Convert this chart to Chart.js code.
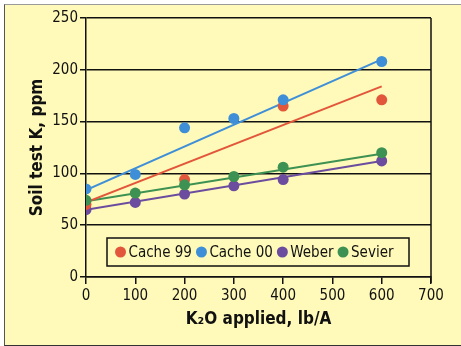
<!DOCTYPE html>
<html>
<head>
<meta charset="utf-8">
<script src="https://cdn.jsdelivr.net/npm/chart.js@4/dist/chart.umd.min.js"></script>
<style>
  html, body { margin: 0; padding: 0; background: #fff; }
  #wrap { position: relative; width: 461px; height: 346px; overflow: hidden; }
  #frame {
    position: absolute; left: 4px; top: 4px; width: 480px; height: 340px;
    background: #fffab9;
    border-top: 1px solid #9a9a9a; border-left: 1px solid #555; border-bottom: 1px solid #333;
  }
  canvas { position: absolute; left: 0; top: 0; }
</style>
</head>
<body>
<div id="wrap">
  <div id="frame"></div>
  <canvas id="chart" width="461" height="346"></canvas>
</div>
<script>
//-----------Data-----------
const cache99X = [0, 200, 400, 600];
const cache99Y = [70, 94, 165, 171];
const cache00X = [0, 100, 200, 300, 400, 600];
const cache00Y = [85, 99, 144, 153, 171, 208];
const weberX = [0, 100, 200, 300, 400, 600];
const weberY = [65, 72, 80, 88, 94, 112];
const sevierX = [0, 100, 200, 300, 400, 600];
const sevierY = [74, 81, 89, 97, 106, 120];

// fitted trend lines, endpoints at 0 and 600 lb/A
const trendX = [0, 600];
const cache99Trend = [72, 184];
const cache00Trend = [84, 210];
const weberTrend = [65, 112];
const sevierTrend = [73, 119];

const xTicks = [0, 100, 200, 300, 400, 500, 600, 700];
const yTicks = [0, 50, 100, 150, 200, 250];

const RED = '#e2573b', BLUE = '#3f8fd8', PURPLE = '#6b4c9f', GREEN = '#3d9152';
const FONT = "'Liberation Sans Narrow', 'DejaVu Sans Condensed', sans-serif";

const pts = (xs, ys) => xs.map((x, i) => ({ x: x, y: ys[i] }));

function pointSet(label, xs, ys, color, order) {
  return {
    label: label, data: pts(xs, ys), showLine: false, order: order,
    pointRadius: 5.5, pointHoverRadius: 5.5,
    pointBackgroundColor: color, pointBorderWidth: 0, borderColor: color
  };
}
function trendSet(ys, color) {
  return {
    label: '', data: pts(trendX, ys), showLine: true, order: 10,
    borderColor: color, borderWidth: 2, pointRadius: 0, fill: false
  };
}

// legend drawn inside the plot, box spans roughly 107..409 px
const boxLegend = {
  id: 'boxLegend',
  afterDraw(chart) {
    const ctx = chart.ctx, area = chart.chartArea;
    const items = chart.data.datasets.filter(d => d.label);
    ctx.save();
    ctx.font = '15px ' + FONT;
    const r = 5.5, gapIn = 8;
    const boxL = 107, boxR = 409, boxT = 238, boxH = 28, cy = boxT + boxH / 2;
    const padL = 8, padR = 10;
    let textW = 0;
    items.forEach(d => { textW += ctx.measureText(d.label).width; });
    const free = (boxR - boxL) - padL - padR - items.length * (r * 2 + gapIn) - textW;
    const gapOut = free / (items.length - 1);
    ctx.fillStyle = '#fffab9';
    ctx.fillRect(boxL, boxT, boxR - boxL, boxH);
    ctx.strokeStyle = '#111';
    ctx.lineWidth = 1.5;
    ctx.strokeRect(boxL, boxT, boxR - boxL, boxH);
    let x = boxL + padL + r;
    ctx.textBaseline = 'middle';
    items.forEach(d => {
      ctx.fillStyle = d.pointBackgroundColor;
      ctx.beginPath();
      ctx.arc(x, cy, r, 0, Math.PI * 2);
      ctx.fill();
      ctx.fillStyle = '#111';
      ctx.fillText(d.label, x + gapIn, cy + 1);
      x += gapIn + ctx.measureText(d.label).width + gapOut + r * 2;
    });
    ctx.restore();
  }
};

// right-hand frame of the plot
const rightEdge = {
  id: 'rightEdge',
  beforeDatasetsDraw(chart) {
    const ctx = chart.ctx, a = chart.chartArea;
    ctx.save();
    ctx.strokeStyle = '#111';
    ctx.lineWidth = 1.5;
    ctx.beginPath();
    ctx.moveTo(a.right, a.top);
    ctx.lineTo(a.right, a.bottom + 6);
    ctx.stroke();
    ctx.restore();
  }
};

new Chart(document.getElementById('chart'), {
  type: 'scatter',
  data: {
    datasets: [
      trendSet(cache99Trend, RED),
      trendSet(cache00Trend, BLUE),
      trendSet(weberTrend, PURPLE),
      trendSet(sevierTrend, GREEN),
      pointSet('Cache 99', cache99X, cache99Y, RED, 3),
      pointSet('Cache 00', cache00X, cache00Y, BLUE, 1),
      pointSet('Weber', weberX, weberY, PURPLE, 4),
      pointSet('Sevier', sevierX, sevierY, GREEN, 2)
    ]
  },
  options: {
    responsive: false,
    animation: false,
    layout: { padding: { left: 0, right: 30, top: 18, bottom: 0 } },
    plugins: { legend: { display: false }, tooltip: { enabled: false } },
    scales: {
      x: {
        type: 'linear', min: 0, max: 700,
        afterBuildTicks: s => { s.ticks = xTicks.map(v => ({ value: v })); },
        afterFit: s => { s.height = 69; },
        grid: { drawOnChartArea: false, drawTicks: true, tickLength: 7, color: '#111', lineWidth: 1.5 },
        border: { color: '#111', width: 1.5 },
        ticks: { color: '#111', font: { family: FONT, size: 15 }, padding: 3, maxRotation: 0 },
        title: {
          display: true, text: 'K₂O applied, lb/A', color: '#111',
          font: { family: FONT, size: 17, weight: 'bold' }, padding: { top: 0, bottom: 16 }
        }
      },
      y: {
        type: 'linear', min: 0, max: 250,
        afterBuildTicks: s => { s.ticks = yTicks.map(v => ({ value: v })); },
        afterFit: s => { s.width = 86; },
        grid: { color: '#111', lineWidth: 1.5, tickLength: 6 },
        border: { color: '#111', width: 1.5 },
        ticks: { color: '#111', font: { family: FONT, size: 15 }, padding: 2 },
        title: {
          display: true, text: 'Soil test K, ppm', color: '#111',
          font: { family: FONT, size: 17, weight: 'bold' }, padding: { top: 27, bottom: 0 }
        }
      }
    }
  },
  plugins: [boxLegend, rightEdge]
});
</script>
</body>
</html>
